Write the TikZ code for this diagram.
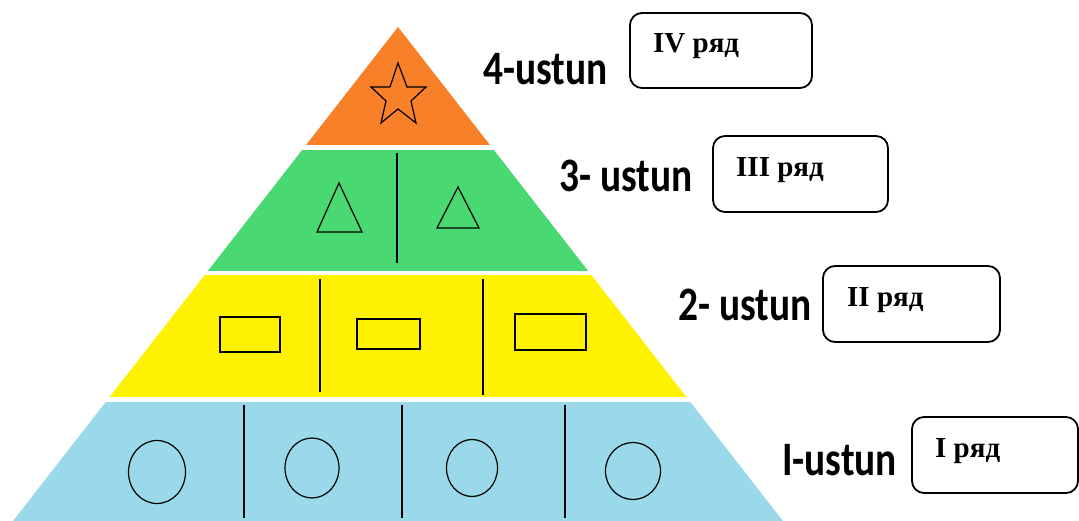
\documentclass[tikz,border=0pt]{standalone}
\usepackage{fontspec}
\setmainfont{Liberation Serif}
\newfontfamily\lblfont{Carlito}[BoldFont={* Bold}]
\definecolor{cOrange}{RGB}{247,128,40}
\definecolor{cGreen}{RGB}{74,216,114}
\definecolor{cYellow}{RGB}{255,242,0}
\definecolor{cBlue}{RGB}{153,217,234}
\tikzset{
  divider/.style={draw=black, line width=1.4pt},
  figline/.style={draw=black, line width=1.2pt},
  rowbox/.style={draw=black, line width=1.8pt, rounded corners=12pt, rectangle, inner sep=0pt},
  rowtext/.style={anchor=base west, inner sep=0pt, font=\fontsize{29}{32}\selectfont\bfseries},
  ustun/.style={anchor=base west, inner sep=0pt, font=\lblfont\bfseries\fontsize{48}{50}\selectfont},
}
\newcommand{\cond}[1]{\scalebox{0.82}[1]{#1}}
\begin{document}
\begin{tikzpicture}[x=1pt,y=-1pt]
\useasboundingbox (0,0) rectangle (1079,521);
\fill[white] (0,0) rectangle (1079,521);
% pyramid bands
\begin{scope}
\clip (398,27) -- (13,521) -- (783,521) -- cycle;
\fill[cOrange] (0,20) rectangle (800,145);
\fill[cGreen] (0,150) rectangle (800,271);
\fill[cYellow] (0,275) rectangle (800,397);
\fill[cBlue] (0,402) rectangle (800,530);
\end{scope}
% star
\draw[figline, line join=miter] (398,63) -- (407,87) -- (426,87) -- (411,101) -- (416,123)
  -- (398,109) -- (381,123) -- (386,101) -- (371,87) -- (390,87) -- cycle;
% green dividers and triangles
\coordinate (g1t) at (397,153); \coordinate (g1b) at (397,263);
\draw[divider] (g1t) -- (g1b);
\draw[figline] (339,183) -- (362,232) -- (317,232) -- cycle;
\draw[figline] (458,187) -- (479,228) -- (437,228) -- cycle;
% yellow dividers and rectangles
\coordinate (y1t) at (320,279); \coordinate (y1b) at (320,392);
\coordinate (y2t) at (483,279); \coordinate (y2b) at (483,395);
\draw[divider] (y1t) -- (y1b);
\draw[divider] (y2t) -- (y2b);
\draw[figline] (220,317) rectangle (280,352);
\draw[figline] (357,319) rectangle (420,349);
\draw[figline] (515,314) rectangle (586,350);
% blue dividers and circles
\coordinate (b1t) at (244,405); \coordinate (b1b) at (244,518);
\coordinate (b2t) at (402,405); \coordinate (b2b) at (402,518);
\coordinate (b3t) at (565,405); \coordinate (b3b) at (565,518);
\draw[divider] (b1t) -- (b1b);
\draw[divider] (b2t) -- (b2b);
\draw[divider] (b3t) -- (b3b);
\draw[figline] (157,472) ellipse [x radius=28.5, y radius=31.5];
\draw[figline] (312,468) ellipse [x radius=27, y radius=30];
\draw[figline] (472,468) ellipse [x radius=25.5, y radius=28.5];
\draw[figline] (633,471) ellipse [x radius=27.5, y radius=28.5];
% labels
\node[ustun] (u4) at (483,85) {\cond{4-ustun}};
\node[ustun] (u3) at (559,192) {\cond{3- ustun}};
\node[ustun] (u2) at (678,320) {\cond{2- ustun}};
\node[ustun] (u1) at (782,475) {\cond{I-ustun}};
% boxes
\node[rowbox, minimum width=182pt, minimum height=75pt] (r4) at (721,50.5) {};
\node[rowbox, minimum width=175pt, minimum height=76pt] (r3) at (800.5,174) {};
\node[rowbox, minimum width=177pt, minimum height=76pt] (r2) at (911.5,304) {};
\node[rowbox, minimum width=166pt, minimum height=76pt] (r1) at (995,455) {};
\node[rowtext] (t4) at (653,53) {IV ряд};
\node[rowtext] (t3) at (736,177) {III ряд};
\node[rowtext] (t2) at (847,307) {II ряд};
\node[rowtext] (t1) at (935,457) {I ряд};
\end{tikzpicture}
\end{document}
